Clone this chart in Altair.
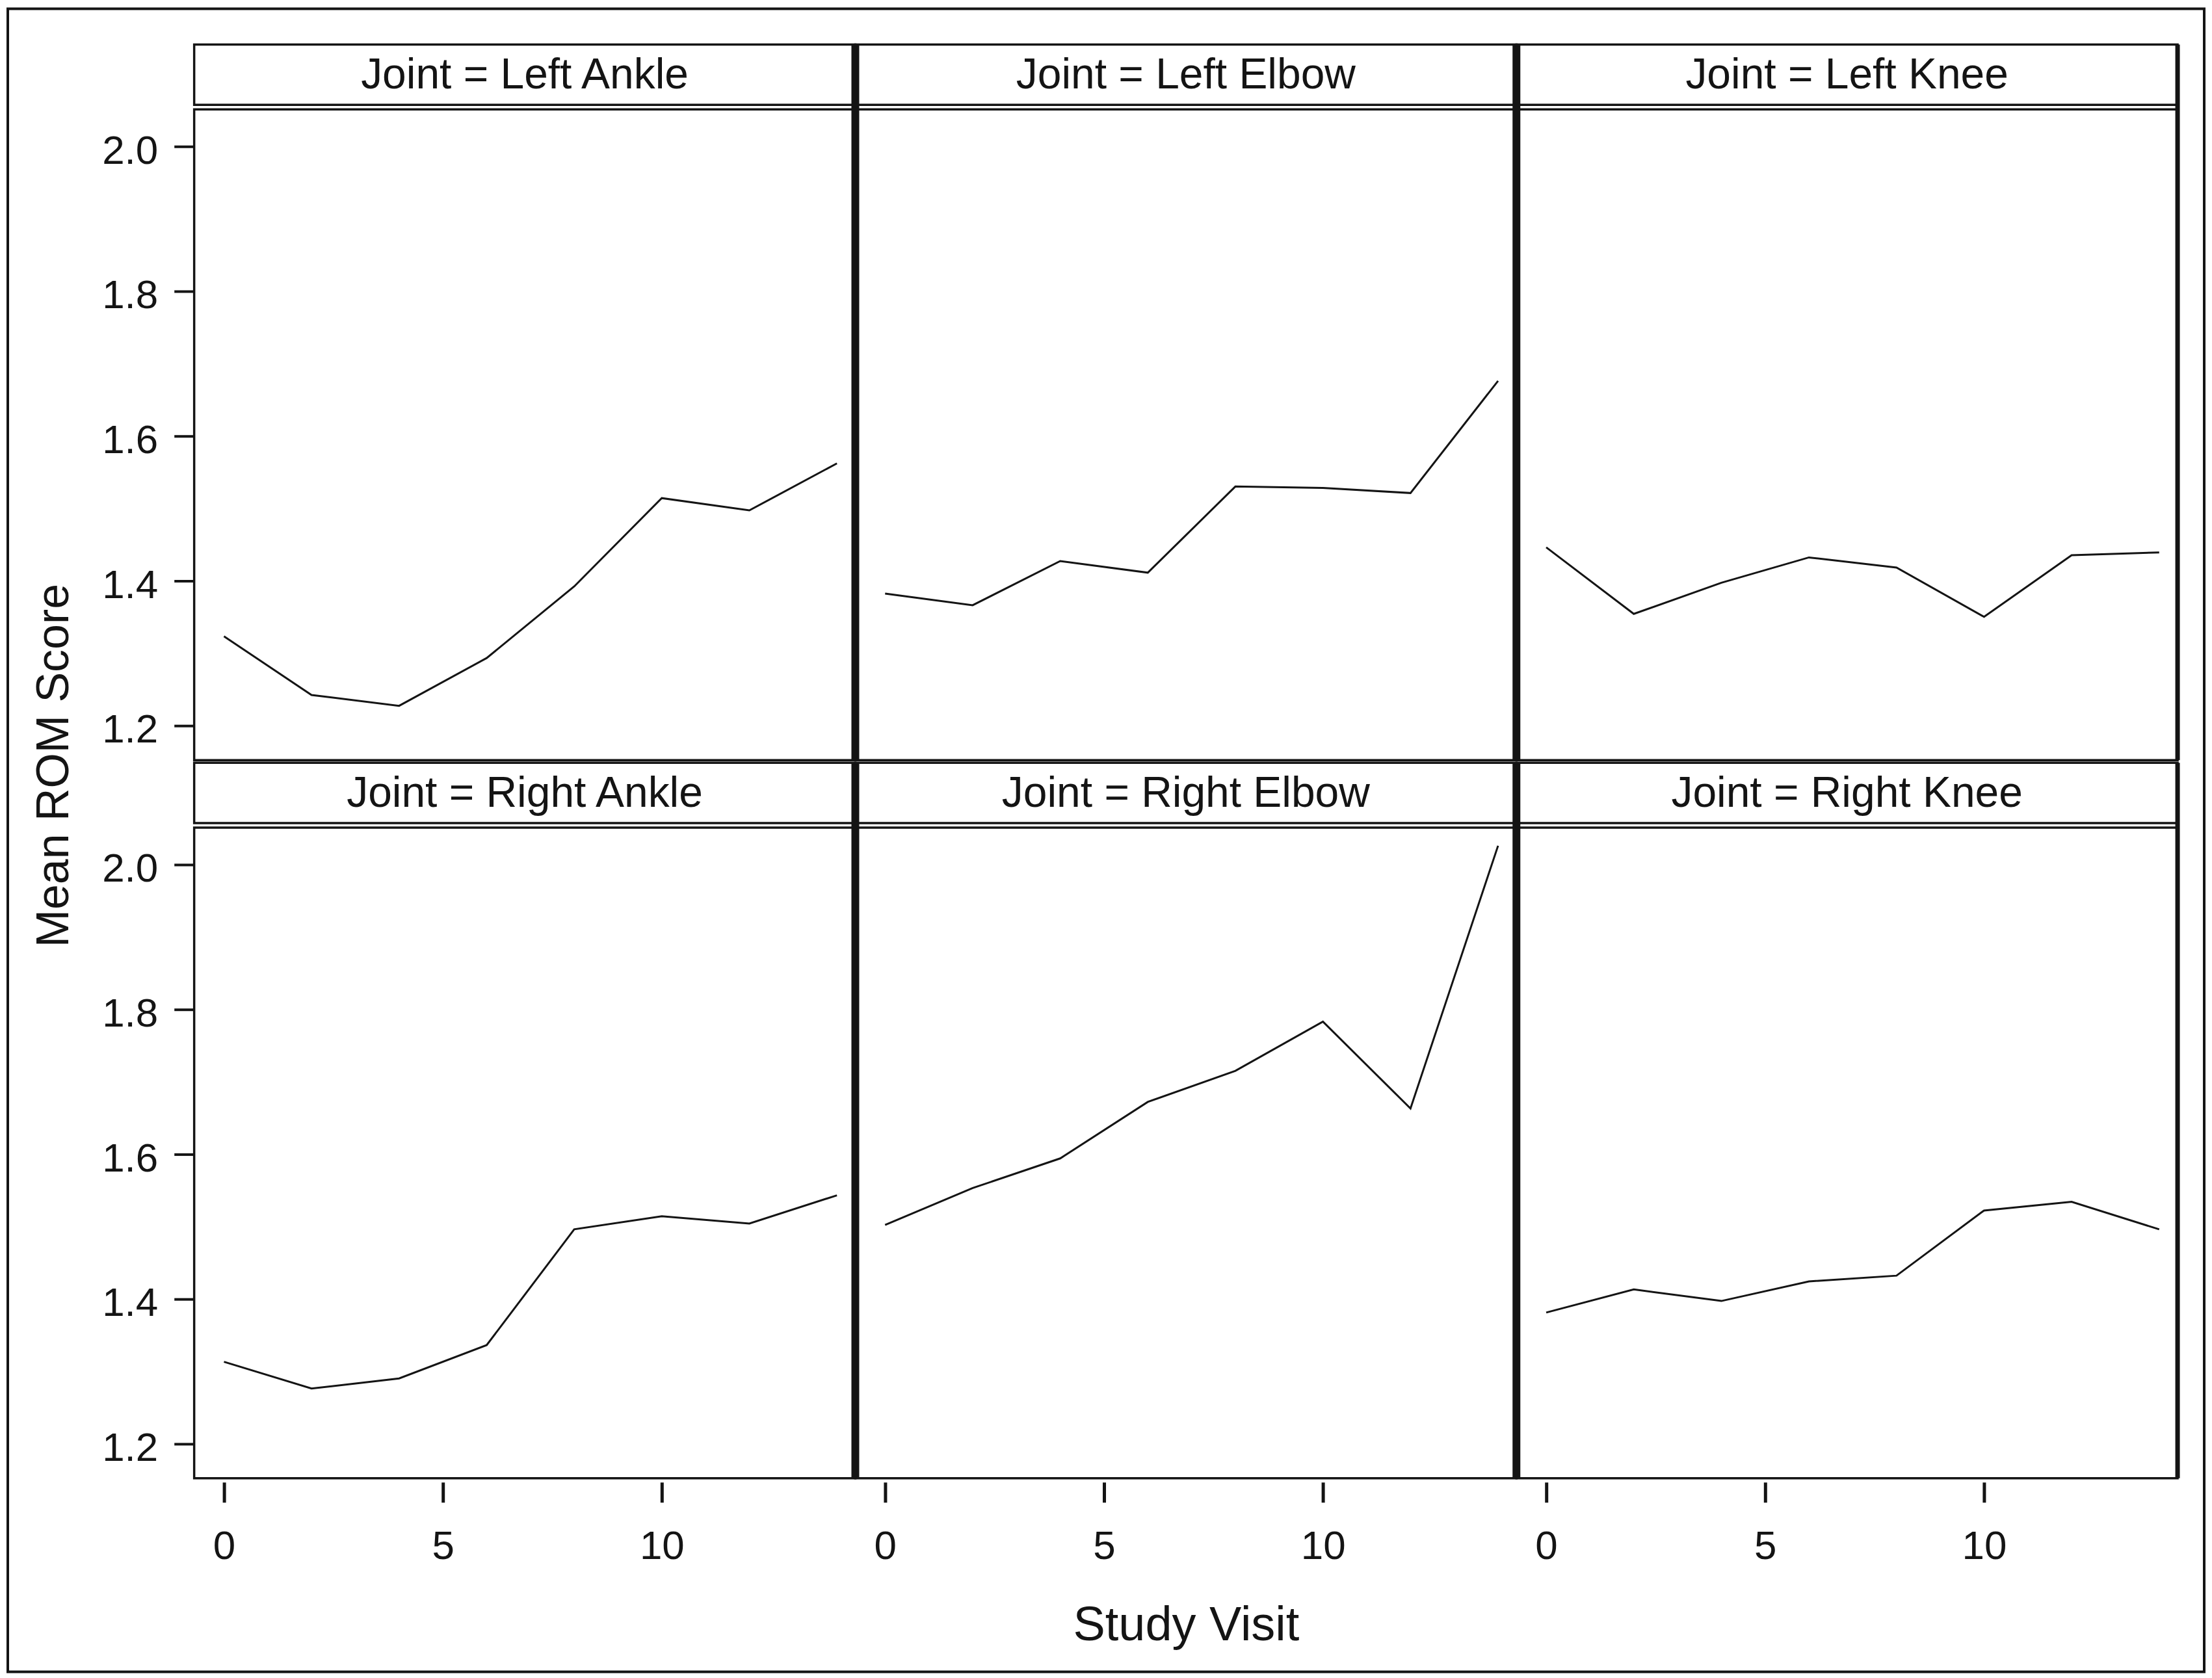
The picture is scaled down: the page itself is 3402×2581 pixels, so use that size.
import altair as alt
import pandas as pd

# ---------------- data ----------------
joints = ["Left Ankle", "Left Elbow", "Left Knee", "Right Ankle", "Right Elbow", "Right Knee"]
visits = [0, 2, 4, 6, 8, 10, 12, 14]
left_ankle = [1.323, 1.242, 1.227, 1.293, 1.392, 1.514, 1.497, 1.562]
left_elbow = [1.382, 1.366, 1.427, 1.411, 1.530, 1.528, 1.521, 1.676]
left_knee = [1.446, 1.354, 1.397, 1.432, 1.418, 1.350, 1.435, 1.439]
right_ankle = [1.313, 1.276, 1.290, 1.336, 1.496, 1.514, 1.504, 1.543]
right_elbow = [1.502, 1.553, 1.594, 1.672, 1.715, 1.783, 1.663, 2.026]
right_knee = [1.381, 1.413, 1.397, 1.424, 1.432, 1.522, 1.534, 1.496]
series = [left_ankle, left_elbow, left_knee, right_ankle, right_elbow, right_knee]
x_ticks = [0, 5, 10]
y_ticks = [1.2, 1.4, 1.6, 1.8, 2.0]

records = []
for j, vals in zip(joints, series):
    for v, s in zip(visits, vals):
        records.append({"joint": j, "visit": v, "score": s})
df = pd.DataFrame(records)

# ---------------- style ----------------
W, H = 1018, 1002
HDR_TOP, HDR_BOT = -100, -7
FONT = "Liberation Sans"
INK = "#141414"

x_scale = alt.Scale(domain=[-0.68, 14.42], nice=False, zero=False)
y_scale = alt.Scale(domain=[1.152, 2.051], nice=False, zero=False)


def panel(i):
    joint = joints[i]
    r, c = divmod(i, 3)

    if r == 1:
        xa = dict(values=x_ticks, tickSize=31, tickWidth=5, offset=6, labelPadding=38,
                  labelFontSize=62, domain=False, grid=False, labelFont=FONT,
                  labelColor=INK, tickColor=INK)
        if c == 1:
            xa.update(titleFontSize=74, titleFont=FONT, titleFontWeight="normal",
                      titleBaseline="alphabetic", titleY=243, titleColor=INK)
            x_enc = alt.X("visit:Q", scale=x_scale, title="Study Visit", axis=alt.Axis(**xa))
        else:
            x_enc = alt.X("visit:Q", scale=x_scale, title="", axis=alt.Axis(**xa))
    else:
        x_enc = alt.X("visit:Q", scale=x_scale, axis=None)

    if c == 0:
        ya = dict(values=y_ticks, format=".1f", tickSize=31, tickWidth=4, labelPadding=25,
                  labelFontSize=62, labelBaseline="alphabetic", labelOffset=26,
                  domain=False, grid=False, labelFont=FONT, labelColor=INK, tickColor=INK)
        if r == 0:
            ya.update(titleFontSize=70, titleFont=FONT, titleFontWeight="normal",
                      titleAngle=270, titleBaseline="alphabetic", titleAlign="center",
                      titleX=-194, titleY=1010, titleColor=INK)
            y_enc = alt.Y("score:Q", scale=y_scale, title="Mean ROM Score", axis=alt.Axis(**ya))
        else:
            y_enc = alt.Y("score:Q", scale=y_scale, title="", axis=alt.Axis(**ya))
    else:
        y_enc = alt.Y("score:Q", scale=y_scale, axis=None)

    line = (
        alt.Chart(df)
        .transform_filter(alt.datum.joint == joint)
        .mark_line(color=INK, strokeWidth=3)
        .encode(x=x_enc, y=y_enc, order="visit:Q")
    )

    hdr_df = pd.DataFrame({"label": ["Joint = " + joint]})
    hdr_box = alt.Chart(hdr_df).mark_rect(fillOpacity=0, stroke=INK, strokeWidth=3.5).encode(
        x=alt.value(0), x2=alt.value(W), y=alt.value(HDR_TOP), y2=alt.value(HDR_BOT)
    )
    hdr_txt = alt.Chart(hdr_df).mark_text(
        font=FONT, fontSize=66, color=INK, align="center", baseline="alphabetic"
    ).encode(text="label:N", x=alt.value(W / 2), y=alt.value(-32))

    layers = [hdr_box, hdr_txt, line]

    # thick separators between columns / right outer edge
    if c < 2:
        layers.append(
            alt.Chart(hdr_df).mark_rule(color=INK, strokeWidth=12).encode(
                x=alt.value(W), y=alt.value(HDR_TOP), y2=alt.value(H)
            )
        )
    else:
        layers.append(
            alt.Chart(hdr_df).mark_rule(color=INK, strokeWidth=7).encode(
                x=alt.value(W), y=alt.value(HDR_TOP), y2=alt.value(H)
            )
        )

    if i == 0:
        # outer frame of the figure
        layers.append(
            alt.Chart(hdr_df).mark_rect(fillOpacity=0, stroke=INK, strokeWidth=4).encode(
                x=alt.value(-287), x2=alt.value(3095), y=alt.value(-155), y2=alt.value(2406)
            )
        )

    return alt.layer(*layers).properties(width=W, height=H)


charts = [panel(i) for i in range(6)]

chart = (
    alt.concat(*charts, columns=3, spacing={"row": 104, "column": 0}, bounds="flush")
    .properties(padding={"left": 0, "top": 0, "right": 0, "bottom": 0}, background="white")
    .configure_view(stroke=INK, strokeWidth=3.5)
)

chart.save("out.html", embed_options={"renderer": "svg", "actions": False})
